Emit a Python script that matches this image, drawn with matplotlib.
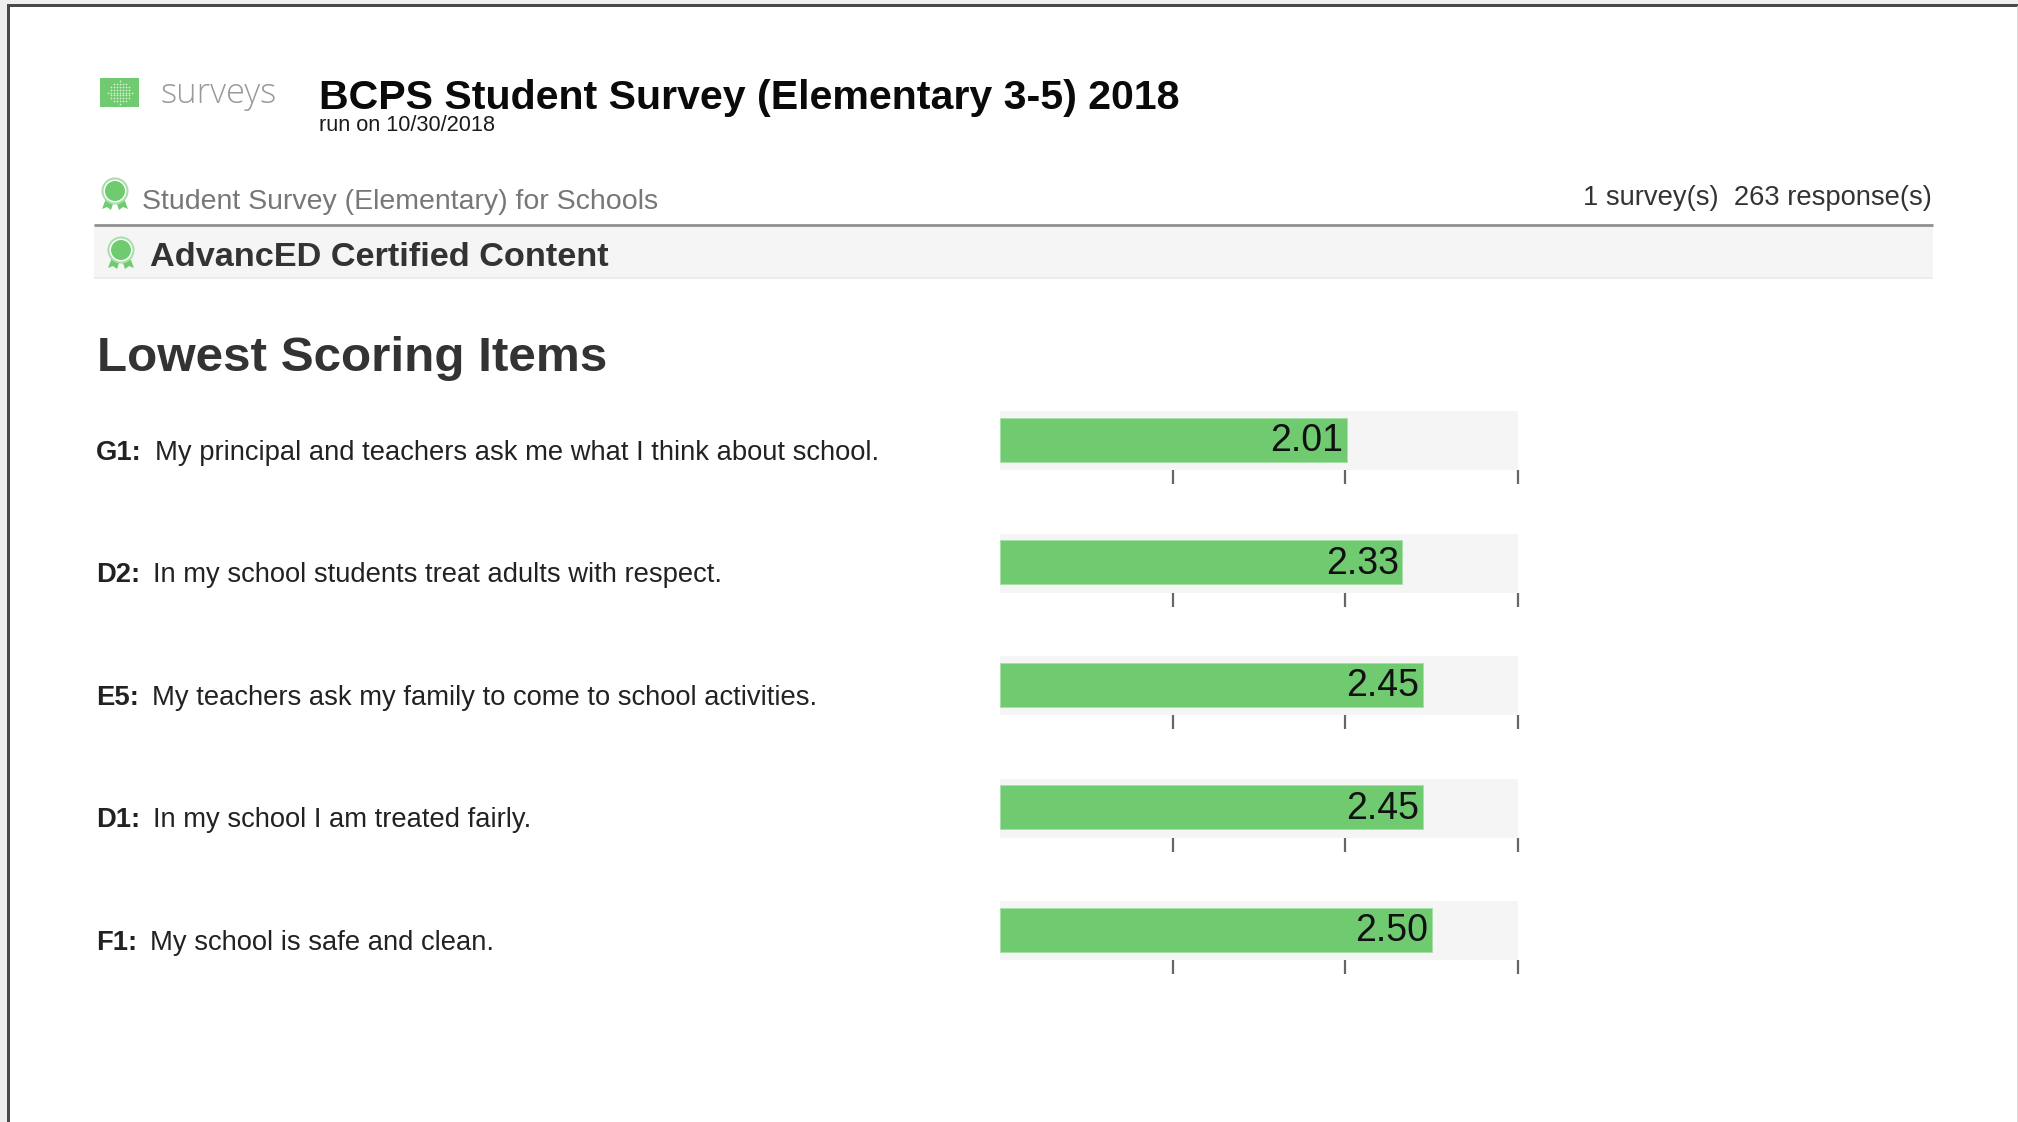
import numpy as np
import matplotlib
matplotlib.use('Agg')
import matplotlib.pyplot as plt
from matplotlib.patches import Rectangle, Circle, Polygon

plt.rcParams['font.family'] = ['Liberation Sans', 'DejaVu Sans']

codes = ['G1:', 'D2:', 'E5:', 'D1:', 'F1:']
questions = [
    'My principal and teachers ask me what I think about school.',
    'In my school students treat adults with respect.',
    'My teachers ask my family to come to school activities.',
    'In my school I am treated fairly.',
    'My school is safe and clean.',
]
scores = [2.01, 2.33, 2.45, 2.45, 2.50]
score_ticks = [1, 2, 3]

title = 'BCPS Student Survey (Elementary 3-5) 2018'
run_date = 'run on 10/30/2018'
subtitle = 'Student Survey (Elementary) for Schools'
counts = '1 survey(s)  263 response(s)'
band_text = 'AdvancED Certified Content'
section = 'Lowest Scoring Items'

W, H = 2018, 1122
GREEN = '#6fca70'
BAND = '#f5f5f5'

fig = plt.figure(figsize=(W / 100, H / 100), dpi=100, facecolor='white')

# page layer in pixel coords, y pointing down
page = fig.add_axes([0, 0, 1, 1])
page.set_xlim(0, W)
page.set_ylim(H, 0)
page.axis('off')

# screenshot frame
page.add_patch(Rectangle((0, 0), W, 4, color='#efefef', lw=0))
page.add_patch(Rectangle((0, 0), 7, H, color='#efefef', lw=0))
page.add_patch(Rectangle((7, 4), W, 2.5, color='#4a4a4a', lw=0))
page.add_patch(Rectangle((7, 4), 2.5, H, color='#4a4a4a', lw=0))
page.add_patch(Rectangle((W - 1.5, 6), 1.5, H, color='#d8d8d8', lw=0))


def ribbon(cx, cy):
    page.add_patch(Polygon([(cx - 8, cy + 5), (cx - 13, cy + 18), (cx - 8, cy + 16), (cx - 4, cy + 19),
                            (cx - 1, cy + 10)], color=GREEN, lw=0))
    page.add_patch(Polygon([(cx + 8, cy + 5), (cx + 13, cy + 18), (cx + 8, cy + 16), (cx + 4, cy + 19),
                            (cx + 1, cy + 10)], color=GREEN, lw=0))
    page.add_patch(Circle((cx, cy), 12.5, fc='white', ec='#a9dfaa', lw=1.5, zorder=3))
    page.add_patch(Circle((cx, cy), 10, color=GREEN, lw=0, zorder=4))


# surveys logo
page.add_patch(Rectangle((100, 78), 39, 29, color=GREEN, lw=0))
gx, gy = np.meshgrid(np.arange(-12, 13, 3), np.arange(-12, 13, 3))
keep = gx ** 2 + gy ** 2 <= 150
page.scatter(119.5 + gx[keep], 92.5 + gy[keep] * 0.95, s=1.6, color='#d6f0d6', lw=0, zorder=3)
page.text(161, 102.5, 'surveys', fontsize=24.9, color='#9a9a9a', family='Open Sans', va='baseline', fontweight='light')

page.text(319, 108.5, title, fontsize=29.6, fontweight='bold', color='#0a0a0a', va='baseline')
page.text(319, 131, run_date, fontsize=15.7, color='#1a1a1a', va='baseline')

ribbon(115, 191)
page.text(142, 208.5, subtitle, fontsize=20.5, color='#777777', va='baseline')
page.text(1932, 204.5, counts, fontsize=19.7, color='#333333', ha='right', va='baseline')

page.add_patch(Rectangle((94, 226), 1839, 53, color=BAND, lw=0))
page.plot([94, 1933], [225, 225], color='#8f8f8f', lw=2, solid_capstyle='butt')
page.plot([94, 1933], [278, 278], color='#ececec', lw=1.5, solid_capstyle='butt')
ribbon(121, 250)
page.text(150, 266, band_text, fontsize=24.7, fontweight='bold', color='#333333', va='baseline')

page.text(97, 370.5, section, fontsize=35.6, fontweight='bold', color='#333333', va='baseline')

# one small axes per item, all sharing the 0-3 score scale
row_step = 122.6
track_x0, track_x1 = 1000, 1518
for i, (code, question, score) in enumerate(zip(codes, questions, scores)):
    top = 411 + i * row_step
    bottom = top + 59
    ax = fig.add_axes([track_x0 / W, 1 - bottom / H, (track_x1 - track_x0) / W, (bottom - top) / H])
    ax.set_facecolor(BAND)
    ax.set_xlim(0, 3)
    ax.set_ylim(0, 59)
    ax.barh(30.5, score, height=44, left=0, color=GREEN, edgecolor='#a6dfa7', linewidth=0.6)
    ax.annotate(f'{score:.2f}', xy=(score, 29), xytext=(-2.5, 0), textcoords='offset points',
                ha='right', va='center', fontsize=27, color='#111111')
    for side in ax.spines.values():
        side.set_visible(False)
    ax.set_yticks([])
    ax.set_xticks(score_ticks)
    ax.set_xticklabels([])
    ax.tick_params(axis='x', length=10, width=1.6, color='#666666')

    y = 459.5 + i * row_step
    label = page.text(96, y, code, fontsize=19.7, fontweight='bold', color='#222222', va='baseline')
    page.annotate(question, xy=(1, 0), xycoords=label, xytext=(9.5, 0), textcoords='offset points',
                  fontsize=19.7, color='#222222', va='bottom')

fig.savefig('out.png', dpi=100, facecolor='white')
